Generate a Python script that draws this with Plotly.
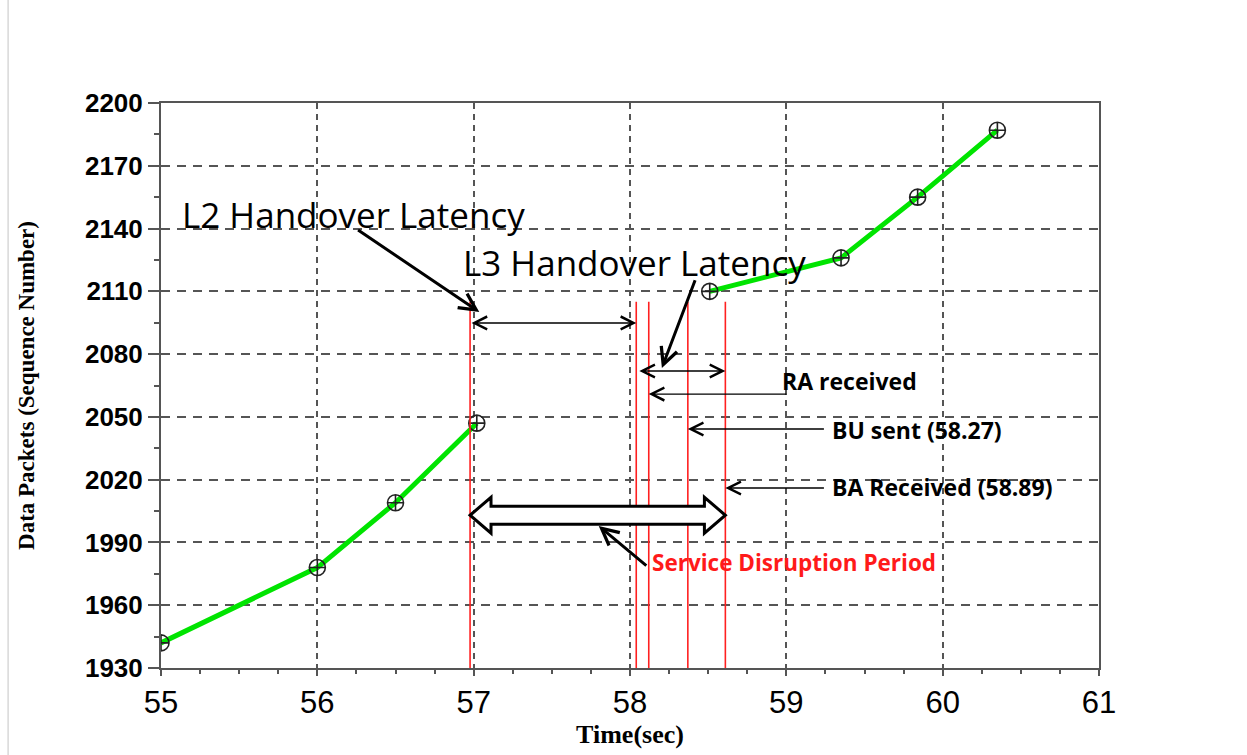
import plotly.graph_objects as go

# Received data packets (sequence number) over time, before and after the handover
time_before = [55.0, 56.0, 56.5, 57.02]
seq_before = [1942, 1978, 2009, 2047]
time_after = [58.51, 59.35, 59.84, 60.35]
seq_after = [2110, 2126, 2155, 2187]

# Handover events (sec): L2 start, L2 end / L3 start, RA received, BU sent, BA received
event_names = ["L2 start", "L3 start", "RA received", "BU sent", "BA received"]
event_times = [56.977, 58.04, 58.12, 58.37, 58.61]

x_ticks = [55, 56, 57, 58, 59, 60, 61]
y_ticks = [1930, 1960, 1990, 2020, 2050, 2080, 2110, 2140, 2170, 2200]

GREEN = "#00e400"
GRID = "#555555"
ANN_FONT = "Open Sans"

fig = go.Figure()

for xs, ys in [(time_before, seq_before), (time_after, seq_after)]:
    fig.add_trace(go.Scatter(
        x=xs, y=ys, mode="lines+markers",
        line=dict(color=GREEN, width=5),
        marker=dict(symbol="circle-cross-open", size=16, color="#222222",
                    line=dict(width=1.6, color="#222222")),
        showlegend=False, cliponaxis=True,
    ))

t_l2, t_l3, t_ra, t_bu, t_ba = event_times

shapes = []
# vertical red event markers
for t in event_times:
    shapes.append(dict(type="line", xref="x", yref="y", x0=t, x1=t, y0=1930, y1=2105,
                       line=dict(color="#ff2020", width=1.6), layer="above"))

# hollow double-headed arrow spanning the service disruption period
yc, s_half, h_half, head = 2003, 4.3, 8.6, 0.134
pts = [
    (t_l2, yc), (t_l2 + head, yc + h_half), (t_l2 + head, yc + s_half),
    (t_ba - head, yc + s_half), (t_ba - head, yc + h_half), (t_ba, yc),
    (t_ba - head, yc - h_half), (t_ba - head, yc - s_half),
    (t_l2 + head, yc - s_half), (t_l2 + head, yc - h_half),
]
path = "M " + " L ".join(f"{px},{py}" for px, py in pts) + " Z"
shapes.append(dict(type="path", xref="x", yref="y", path=path,
                   fillcolor="white", line=dict(color="black", width=3), layer="above"))

# faint page border on the left
shapes.append(dict(type="line", xref="paper", yref="paper", x0=-0.163, x1=-0.163,
                   y0=-0.16, y1=1.19, line=dict(color="#d8d8d8", width=1.5)))

annotations = []


def arrow(x_tip, y_tip, x_tail, y_tail, width, size, both=False, head=5):
    annotations.append(dict(
        x=x_tip, y=y_tip, ax=x_tail, ay=y_tail, xref="x", yref="y", axref="x", ayref="y",
        text="", showarrow=True, arrowhead=head, arrowsize=size, arrowwidth=width,
        arrowcolor="black", arrowside="end+start" if both else "end",
        startarrowhead=head, startarrowsize=size,
    ))


def label(x, y, text, size, bold=False, color="black"):
    annotations.append(dict(
        x=x, y=y, xref="x", yref="y", text=f"<b>{text}</b>" if bold else text,
        showarrow=False, xanchor="left", yanchor="middle",
        font=dict(family=ANN_FONT, size=size, color=color),
    ))


# latency spans
arrow(t_l3, 2094.9, t_l2, 2094.9, 1.4, 1.8, both=True)
arrow(t_ba, 2071.9, t_l3 + 0.01, 2071.9, 1.4, 1.8, both=True)

# event pointers
arrow(t_ra, 2060.9, 59.01, 2060.9, 1.4, 1.8)
arrow(t_bu, 2044.2, 59.25, 2044.2, 1.4, 1.8)
arrow(t_ba, 2016.0, 59.25, 2016.0, 1.4, 1.8)

# callout arrows
arrow(57.036, 2100.1, 56.251, 2139.8, 3, 1.1)
arrow(58.204, 2073.4, 58.42, 2116.0, 3, 1.1)
arrow(57.80, 1997.9, 58.114, 1978.3, 3, 1.1)

label(55.12, 2146.5, "L2 Handover Latency", 35)
label(56.92, 2124.0, "L3 Handover Latency", 35)
label(58.96, 2067.2, "RA received", 23, bold=True)
label(59.28, 2043.7, "BU sent (58.27)", 23, bold=True)
label(59.28, 2016.5, "BA Received (58.89)", 23, bold=True)
label(58.13, 1980.2, "Service Disruption Period", 22.5, bold=True, color="#ff1a1a")

fig.update_layout(
    width=1247, height=755,
    margin=dict(l=161, r=148, t=103, b=87),
    paper_bgcolor="white", plot_bgcolor="white",
    shapes=shapes, annotations=annotations,
    showlegend=False,
)

fig.update_xaxes(
    range=[55, 61], tickvals=x_ticks, ticktext=[str(v) for v in x_ticks],
    showline=True, linecolor=GRID, linewidth=2, mirror=True,
    ticks="outside", ticklen=6, tickwidth=2, tickcolor=GRID,
    minor=dict(dtick=0.25, ticks="outside", ticklen=4, tickwidth=2, tickcolor=GRID, showgrid=False),
    showgrid=True, gridcolor=GRID, gridwidth=2, griddash="6px,5px",
    zeroline=False,
    tickfont=dict(family="Liberation Sans", size=31, color="black"),
    title=dict(text="<b>Time(sec)</b>", font=dict(family="Liberation Serif", size=26, color="black"),
               standoff=4),
)
fig.update_yaxes(
    range=[1930, 2200], tickvals=y_ticks, ticktext=[str(v) for v in y_ticks],
    showline=True, linecolor=GRID, linewidth=2, mirror=True,
    ticks="outside", ticklen=11, tickwidth=2, tickcolor=GRID,
    minor=dict(dtick=15, tick0=1930, ticks="outside", ticklen=5, tickwidth=2, tickcolor=GRID, showgrid=False),
    showgrid=True, gridcolor=GRID, gridwidth=2, griddash="9px,7px",
    zeroline=False,
    tickfont=dict(family="Liberation Sans", size=26, color="black", weight="bold"),
    title=dict(text="<b>Data Packets (Sequence Number)</b>",
               font=dict(family="Liberation Serif", size=23, color="black"), standoff=44),
)

fig.write_html("out.html")
